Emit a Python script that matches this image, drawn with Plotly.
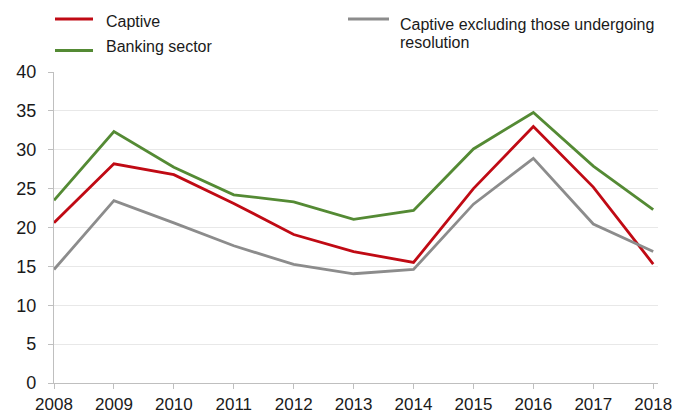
import plotly.graph_objects as go

years = [2008, 2009, 2010, 2011, 2012, 2013, 2014, 2015, 2016, 2017, 2018]
captive = [20.6, 28.2, 26.8, 23.1, 19.1, 16.9, 15.5, 25.0, 33.0, 25.2, 15.3]
banking = [23.5, 32.35, 27.75, 24.2, 23.3, 21.05, 22.2, 30.1, 34.8, 27.9, 22.3]
captive_excl = [14.6, 23.45, 20.6, 17.65, 15.25, 14.05, 14.6, 23.0, 28.9, 20.45, 16.9]

series_names = ["Captive", "Banking sector", "Captive excluding those undergoing resolution"]
colors = ["#C00A14", "#548A34", "#8C8C8C"]
y_ticks = [0, 5, 10, 15, 20, 25, 30, 35, 40]

FONT = "Liberation Sans, Arial, sans-serif"

fig = go.Figure()
for name, vals, col in zip(series_names, [captive, banking, captive_excl], colors):
    fig.add_trace(go.Scatter(x=years, y=vals, mode="lines", name=name,
                             line=dict(color=col, width=2.8), showlegend=False))

# draw legend (samples + labels) in paper coordinates
W, H = 685, 414
ml, mr, mt, mb = 54, 27, 72, 31
pw, ph = W - ml - mr, H - mt - mb

def px_to_paper(x, y):
    return (x - ml) / pw, 1 - (y - mt) / ph

legend_samples = [
    (colors[0], 55, 93, 19),
    (colors[1], 55, 93, 50.5),
    (colors[2], 348, 389, 19),
]
legend_texts = [
    ("Captive", 104, 21),
    ("Banking sector", 104, 47),
    ("Captive excluding those undergoing", 398, 24.5),
    ("resolution", 398, 42),
]
for col, x0, x1, ly in legend_samples:
    a0, b0 = px_to_paper(x0, ly)
    a1, _ = px_to_paper(x1, ly)
    fig.add_shape(type="line", xref="paper", yref="paper", x0=a0, x1=a1, y0=b0, y1=b0,
                  line=dict(color=col, width=3.2))
for label, tx, ty in legend_texts:
    ax, ay = px_to_paper(tx, ty)
    fig.add_annotation(xref="paper", yref="paper", x=ax, y=ay, text=label, showarrow=False,
                       xanchor="left", yanchor="middle", align="left",
                       font=dict(family=FONT, size=16, color="#1a1a1a"))

fig.update_layout(
    width=W, height=H,
    margin=dict(l=ml, r=mr, t=mt, b=mb),
    paper_bgcolor="white", plot_bgcolor="white",
    font=dict(family=FONT, color="#1a1a1a"),
    showlegend=False,
)
fig.update_xaxes(
    range=[2008, 2018.08], tickmode="array", tickvals=years, ticktext=[str(y) for y in years],
    showgrid=False, showline=True, linecolor="#BFBFBF", linewidth=1.2,
    ticks="outside", ticklen=5, tickcolor="#BFBFBF", tickwidth=1.2,
    tickfont=dict(family=FONT, size=17, color="#1a1a1a"), zeroline=False,
    automargin=False,
)
fig.update_yaxes(
    range=[0, 40], tickmode="array", tickvals=y_ticks,
    showgrid=True, gridcolor="#E8E8E8", gridwidth=1,
    showline=True, linecolor="#BFBFBF", linewidth=1.2,
    ticks="outside", ticklen=5, tickcolor="#BFBFBF", tickwidth=1.2,
    tickfont=dict(family=FONT, size=18, color="#1a1a1a"), zeroline=False,
    ticklabelstandoff=8, automargin=False,
)

fig.write_html(
    "out.html",
    config={"displayModeBar": False},
    post_script="document.body.style.margin='0';document.body.style.overflow='hidden';",
)
